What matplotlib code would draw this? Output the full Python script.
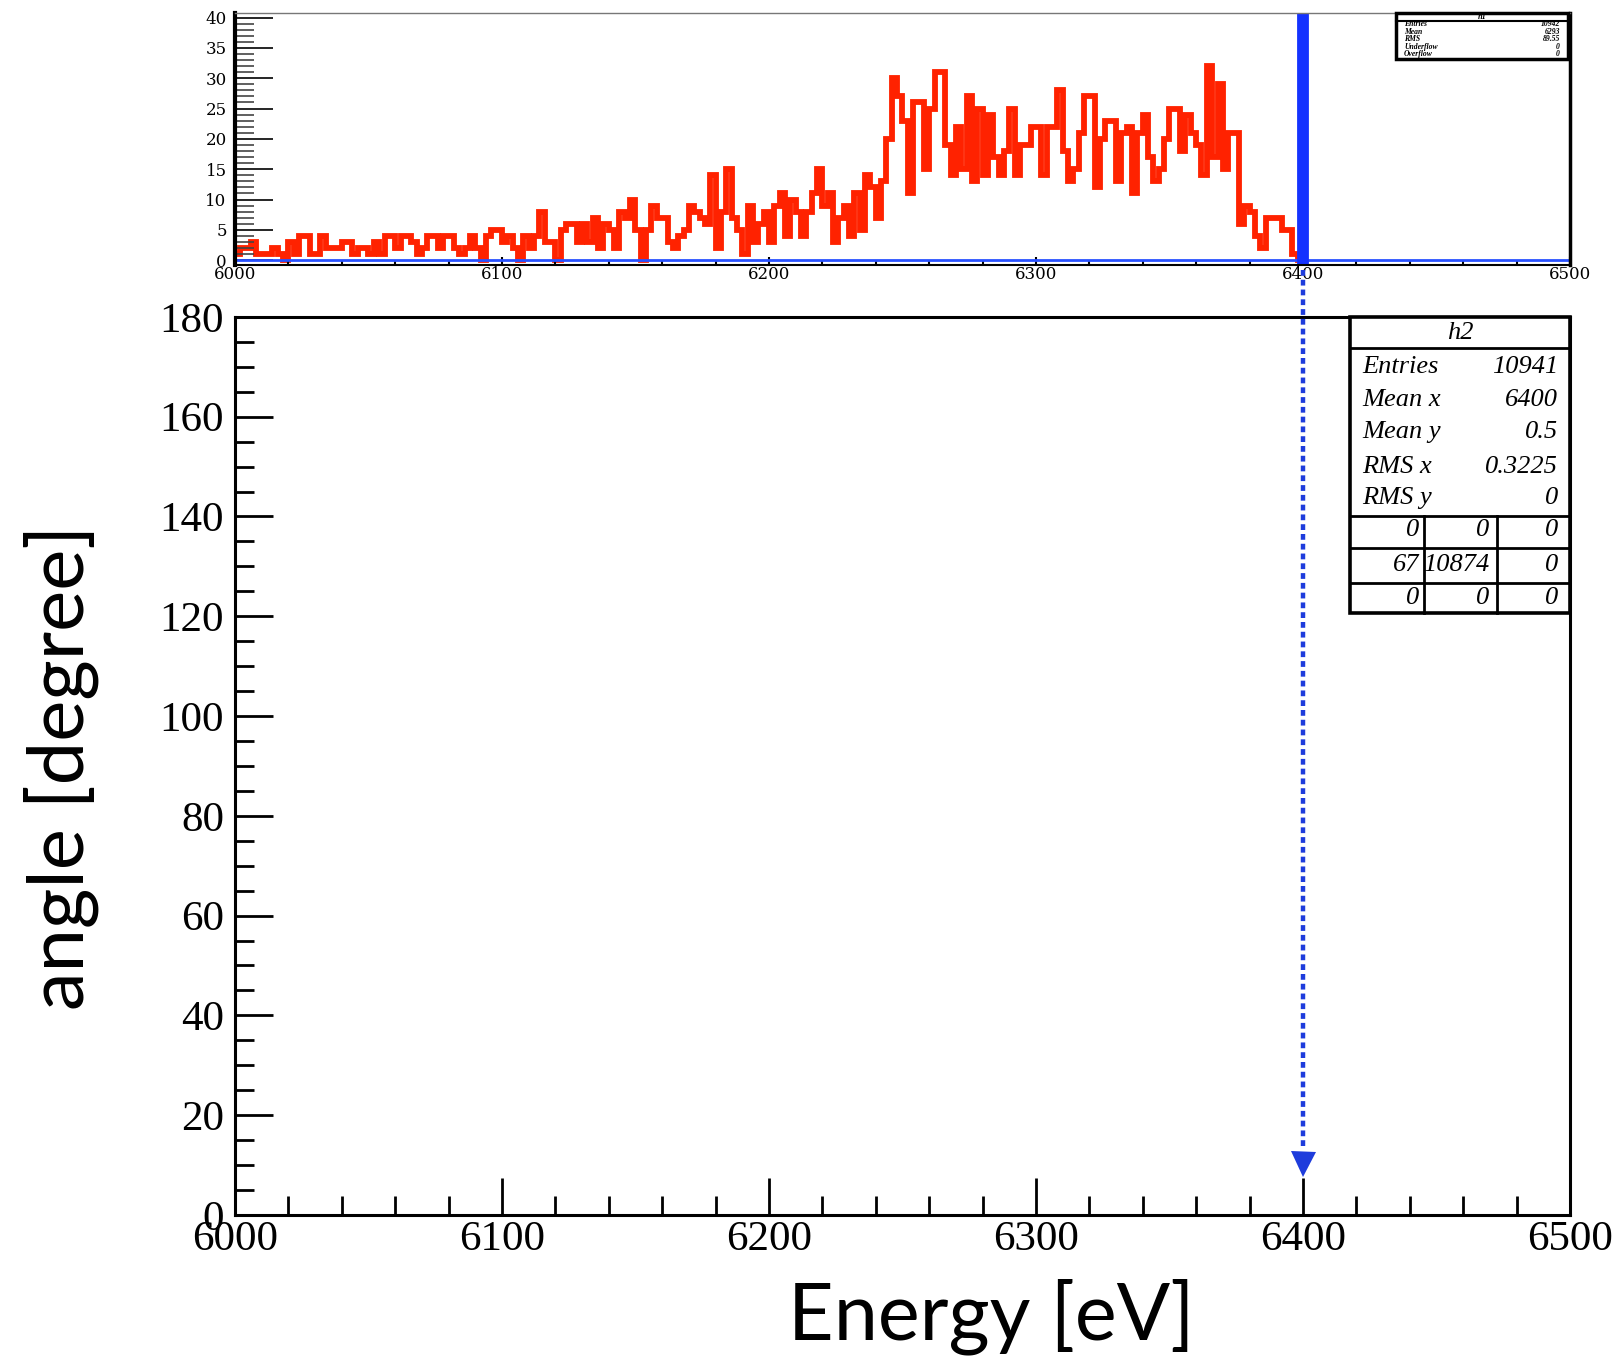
import matplotlib
matplotlib.use("Agg")
import matplotlib.pyplot as plt
import numpy as np
from matplotlib.patches import Rectangle
from matplotlib.ticker import MultipleLocator

# h1 : counts in 2 eV bins from 6000 to 6400 eV
bin_edges = np.arange(6000, 6401, 2)
counts = [
    1, 2, 2, 3, 1, 1, 1, 2, 1, 0,
    3, 1, 4, 4, 1, 1, 4, 2, 2, 2,
    3, 3, 1, 2, 2, 1, 3, 1, 4, 4,
    2, 4, 4, 3, 1, 2, 4, 4, 2, 4,
    4, 2, 1, 2, 4, 2, 0, 4, 5, 5,
    3, 4, 2, 0, 4, 2, 4, 8, 3, 3,
    0, 5, 6, 6, 3, 6, 3, 7, 2, 6,
    5, 2, 8, 7, 10, 5, 0, 5, 9, 7,
    7, 3, 2, 4, 5, 9, 8, 7, 6, 14,
    2, 8, 15, 7, 5, 1, 9, 3, 6, 8,
    3, 9, 11, 4, 10, 8, 4, 8, 11, 15,
    9, 11, 3, 7, 9, 4, 11, 5, 14, 12,
    7, 13, 20, 30, 27, 23, 11, 26, 26, 15,
    25, 31, 31, 19, 14, 22, 15, 27, 13, 25,
    14, 24, 17, 14, 18, 25, 14, 19, 19, 22,
    22, 14, 22, 22, 28, 18, 13, 15, 21, 27,
    27, 12, 20, 23, 23, 13, 21, 22, 11, 21,
    24, 17, 13, 15, 20, 25, 25, 18, 24, 21,
    19, 14, 32, 17, 29, 15, 21, 21, 6, 9,
    8, 4, 2, 7, 7, 7, 5, 5, 1, 0,
]

h1_labels = ["Entries", "Mean", "RMS", "Underflow", "Overflow"]
h1_values = ["10942", "6293", "89.55", "0", "0"]

h2_labels = ["Entries", "Mean x", "Mean y", "RMS x", "RMS y"]
h2_values = ["10941", "6400", "0.5", "0.3225", "0"]
h2_grid = [["0", "0", "0"], ["67", "10874", "0"], ["0", "0", "0"]]

line_energy = 6400

red = "#ff2200"
blue = "#1432ff"
arrow_blue = "#1e3cdc"
serif = "Liberation Serif"

fig = plt.figure(figsize=(16.14, 13.59), dpi=100)

# ---------------- top panel (h1)
ax1 = fig.add_axes([0.1456, 0.8050, 0.8271, 0.1854])
ax1.stairs(counts, bin_edges, color=red, lw=4.2, baseline=None)
ax1.axhline(0, color="#2850ff", lw=2)
ax1.axvline(line_energy, color=blue, lw=8.5)
ax1.set_xlim(6000, 6500)
ax1.set_ylim(-0.8, 40.75)
ax1.yaxis.set_major_locator(MultipleLocator(5))
ax1.yaxis.set_minor_locator(MultipleLocator(1))
ax1.xaxis.set_major_locator(MultipleLocator(100))
ax1.xaxis.set_minor_locator(MultipleLocator(20))
ax1.tick_params(axis="y", which="major", direction="in", length=27, width=1.2,
                labelsize=12, pad=6)
ax1.tick_params(axis="y", which="minor", direction="in", length=14, width=1.2,
                color="#444444")
ax1.tick_params(axis="x", which="major", direction="in", length=6, width=1.5,
                labelsize=12, pad=1)
ax1.tick_params(axis="x", which="minor", direction="in", length=3.5, width=1.5)
for lab in ax1.get_xticklabels() + ax1.get_yticklabels():
    lab.set_fontfamily("DejaVu Serif")
ax1.spines["left"].set_linewidth(3)
ax1.spines["bottom"].set_linewidth(1.5)
ax1.spines["right"].set_linewidth(2.5)
ax1.spines["top"].set_linewidth(1)
ax1.spines["top"].set_color("#777777")

# h1 stats box
bx0, bx1, by0, by1 = 0.8697, 0.9985, 0.817, 1.0
ax1.add_patch(Rectangle((bx0, by0), bx1 - bx0, by1 - by0, transform=ax1.transAxes,
                        facecolor="white", edgecolor="black", lw=2.5, zorder=5,
                        clip_on=False))
ax1.plot([bx0, bx1], [0.968, 0.968], transform=ax1.transAxes, color="black",
         lw=1.5, zorder=6, clip_on=False)
ax1.text((bx0 + bx1) / 2, 0.984, "h1", transform=ax1.transAxes, ha="center",
         va="center", fontsize=6, family=serif, style="italic", weight="bold",
         zorder=7)
for i, (lab, val) in enumerate(zip(h1_labels, h1_values)):
    yy = 0.955 - i * 0.0295
    ax1.text(bx0 + 0.006, yy, lab, transform=ax1.transAxes, ha="left", va="center",
             fontsize=5.5, family=serif, style="italic", weight="bold", zorder=7)
    ax1.text(bx1 - 0.006, yy, val, transform=ax1.transAxes, ha="right", va="center",
             fontsize=5.5, family=serif, style="italic", weight="bold", zorder=7)

# ---------------- bottom panel (h2)
ax2 = fig.add_axes([0.1456, 0.1060, 0.8271, 0.6608])
ax2.set_xlim(6000, 6500)
ax2.set_ylim(0, 180)
ax2.xaxis.set_major_locator(MultipleLocator(100))
ax2.xaxis.set_minor_locator(MultipleLocator(20))
ax2.yaxis.set_major_locator(MultipleLocator(20))
ax2.yaxis.set_minor_locator(MultipleLocator(5))
ax2.tick_params(axis="both", which="major", direction="in", length=27, width=2,
                labelsize=31)
ax2.tick_params(axis="both", which="minor", direction="in", length=14, width=2)
ax2.tick_params(axis="y", which="major", pad=8)
ax2.tick_params(axis="x", which="major", pad=4)
for lab in ax2.get_xticklabels() + ax2.get_yticklabels():
    lab.set_fontfamily(serif)
for s in ax2.spines.values():
    s.set_linewidth(2.2)

# dotted arrow at the line energy
ax2.plot([line_energy, line_energy], [189.4, 13.0], color=arrow_blue, lw=3.2,
         ls=(0, (1.3, 0.9)), clip_on=False, zorder=4)
ax2.plot([line_energy], [10.3], marker="v", ms=18, color=arrow_blue,
         markeredgewidth=0, clip_on=False, zorder=4)

# h2 stats box
sx0, sx1, sy0, sy1 = 0.835, 1.0, 0.6704, 1.0
ax2.add_patch(Rectangle((sx0, sy0), sx1 - sx0, sy1 - sy0, transform=ax2.transAxes,
                        facecolor="white", edgecolor="black", lw=2.6, zorder=5,
                        clip_on=False))
for yy in [0.9655, 0.7784, 0.7428, 0.7038]:
    ax2.plot([sx0, sx1], [yy, yy], transform=ax2.transAxes, color="black", lw=2,
             zorder=6, clip_on=False)
for xx in [0.8906, 0.9453]:
    ax2.plot([xx, xx], [sy0, 0.7784], transform=ax2.transAxes, color="black", lw=2,
             zorder=6, clip_on=False)
txt = dict(transform=ax2.transAxes, fontsize=19, family=serif, style="italic",
           va="center", zorder=7)
ax2.text((sx0 + sx1) / 2, 0.9822, "h2", ha="center", **txt)
for lab, val, yy in zip(h2_labels, h2_values, [0.9443, 0.9076, 0.8719, 0.8330, 0.7984]):
    ax2.text(0.8442, yy, lab, ha="left", **txt)
    ax2.text(0.991, yy, val, ha="right", **txt)
for row, yy in zip(h2_grid, [0.7628, 0.7238, 0.6871]):
    for val, xx in zip(row, [0.887, 0.9393, 0.991]):
        ax2.text(xx, yy, val, ha="right", **txt)

# axis titles
fig.text(0.614, 0.031, "Energy [eV]", ha="center", va="center", fontsize=57,
         family="Lato")
fig.text(0.0378, 0.4356, "angle [degree]", ha="center", va="center", fontsize=56,
         family="Lato", rotation=90)

fig.savefig("out.png", dpi=100)
